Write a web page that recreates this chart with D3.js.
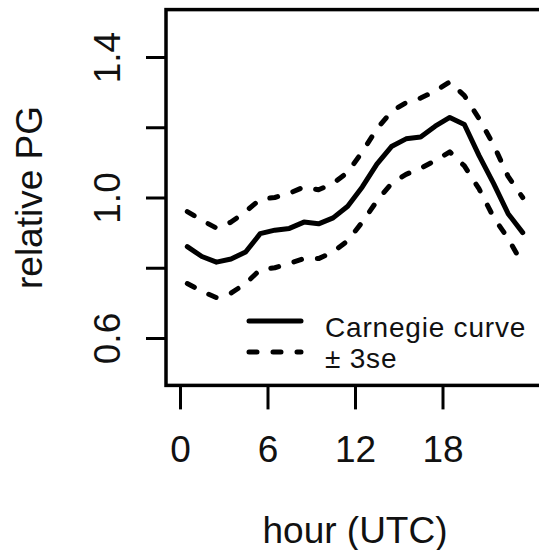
<!DOCTYPE html>
<html>
<head>
<meta charset="utf-8">
<script src="https://cdn.jsdelivr.net/npm/d3@7"></script>
<style>
  html, body { margin: 0; padding: 0; background: #fff; }
  svg { display: block; }
  text { font-family: "Liberation Sans", Arial, sans-serif; fill: #111; }
</style>
</head>
<body>
<svg id="chart" width="539" height="550"></svg>
<script>
// Diurnal cycle of relative potential gradient (hour UTC, mid-hour values)
const hours = [0.5, 1.5, 2.5, 3.5, 4.5, 5.5, 6.5, 7.5, 8.5, 9.5, 10.5, 11.5,
               12.5, 13.5, 14.5, 15.5, 16.5, 17.5, 18.5, 19.5, 20.5, 21.5, 22.5, 23.5];
const carnegie = [0.860, 0.832, 0.816, 0.825, 0.845, 0.897, 0.907, 0.912, 0.930, 0.925, 0.942, 0.975,
                  1.030, 1.095, 1.145, 1.167, 1.172, 1.203, 1.228, 1.208, 1.120, 1.040, 0.954, 0.900];
const upper3se = [0.960, 0.935, 0.913, 0.930, 0.960, 0.995, 1.000, 1.012, 1.030, 1.022, 1.040, 1.072,
                  1.130, 1.195, 1.245, 1.270, 1.283, 1.303, 1.329, 1.290, 1.225, 1.150, 1.060, 1.000];
const lower3se = [0.755, 0.733, 0.715, 0.728, 0.755, 0.795, 0.800, 0.812, 0.826, 0.826, 0.845, 0.877,
                  0.930, 0.990, 1.040, 1.066, 1.083, 1.105, 1.130, 1.090, 1.025, 0.944, 0.883, 0.810];

const xTicks = [0, 6, 12, 18];
const yTicks = [0.6, 0.8, 1.0, 1.2, 1.4];
const yTickLabels = ["0.6", "", "1.0", "", "1.4"];
const legendLabels = ["Carnegie curve", "\u00B1 3se"];

const svg = d3.select("#chart");

// plot region (R-style 4% padding around xlim 0..24)
const x = d3.scaleLinear().domain([-0.96, 24.96]).range([166, 544]);
const y = d3.scaleLinear().domain([0.465, 1.535]).range([385.4, 9.6]);

const dash = "8,16";
const lineW = 5;

// frame
svg.append("rect")
  .attr("x", x.range()[0]).attr("y", y.range()[1])
  .attr("width", x.range()[1] - x.range()[0])
  .attr("height", y.range()[0] - y.range()[1])
  .attr("fill", "none").attr("stroke", "#000").attr("stroke-width", 3.5);

// y axis
const yAxis = svg.append("g")
  .attr("transform", `translate(${x.range()[0]},0)`)
  .call(d3.axisLeft(y).tickValues(yTicks).tickSize(20)
        .tickFormat((d, i) => yTickLabels[i]));
yAxis.select(".domain").remove();
yAxis.selectAll(".tick line").attr("stroke", "#000").attr("stroke-width", 3);
yAxis.selectAll(".tick text")
  .attr("x", null).attr("dy", null)
  .attr("transform", "translate(-46,0) rotate(-90)")
  .attr("text-anchor", "middle")
  .style("font-size", "37px")
  .style("font-family", "'Liberation Sans', Arial, sans-serif")
  .attr("fill", "#111");

// x axis
const xAxis = svg.append("g")
  .attr("transform", `translate(0,${y.range()[0]})`)
  .call(d3.axisBottom(x).tickValues(xTicks).tickSize(24).tickFormat(d3.format("d")));
xAxis.select(".domain").remove();
xAxis.selectAll(".tick line").attr("stroke", "#000").attr("stroke-width", 3);
xAxis.selectAll(".tick text")
  .attr("y", 77).attr("dy", null)
  .style("font-size", "37px")
  .style("font-family", "'Liberation Sans', Arial, sans-serif")
  .attr("fill", "#111");

// axis titles
svg.append("text")
  .attr("x", (x.range()[0] + x.range()[1]) / 2).attr("y", 543)
  .attr("text-anchor", "middle").style("font-size", "37px")
  .text("hour (UTC)");
svg.append("text")
  .attr("transform", `translate(42,${(y.range()[0] + y.range()[1]) / 2}) rotate(-90)`)
  .attr("text-anchor", "middle").style("font-size", "37px")
  .text("relative PG");

// curves
const line = d3.line().x(d => x(d[0])).y(d => y(d[1]));
const series = [
  { values: upper3se, dashed: true },
  { values: lower3se, dashed: true },
  { values: carnegie, dashed: false }
];
svg.append("g").selectAll("path")
  .data(series)
  .join("path")
  .attr("d", s => line(hours.map((h, i) => [h, s.values[i]])))
  .attr("fill", "none")
  .attr("stroke", "#000")
  .attr("stroke-width", lineW)
  .attr("stroke-linejoin", "round")
  .attr("stroke-linecap", "round")
  .attr("stroke-dasharray", s => s.dashed ? dash : null);

// legend
const legend = svg.append("g");
const legY = [321, 352];
legend.selectAll("line")
  .data(legendLabels)
  .join("line")
  .attr("x1", 249).attr("x2", 301)
  .attr("y1", (d, i) => legY[i]).attr("y2", (d, i) => legY[i])
  .attr("stroke", "#000").attr("stroke-width", lineW)
  .attr("stroke-linecap", "round")
  .attr("stroke-dasharray", (d, i) => i === 1 ? dash : null);
legend.selectAll("text")
  .data(legendLabels)
  .join("text")
  .attr("x", 325).attr("y", (d, i) => legY[i] + 16)
  .style("font-size", "28px")
  .style("letter-spacing", "0.8px")
  .text(d => d);
</script>
</body>
</html>
